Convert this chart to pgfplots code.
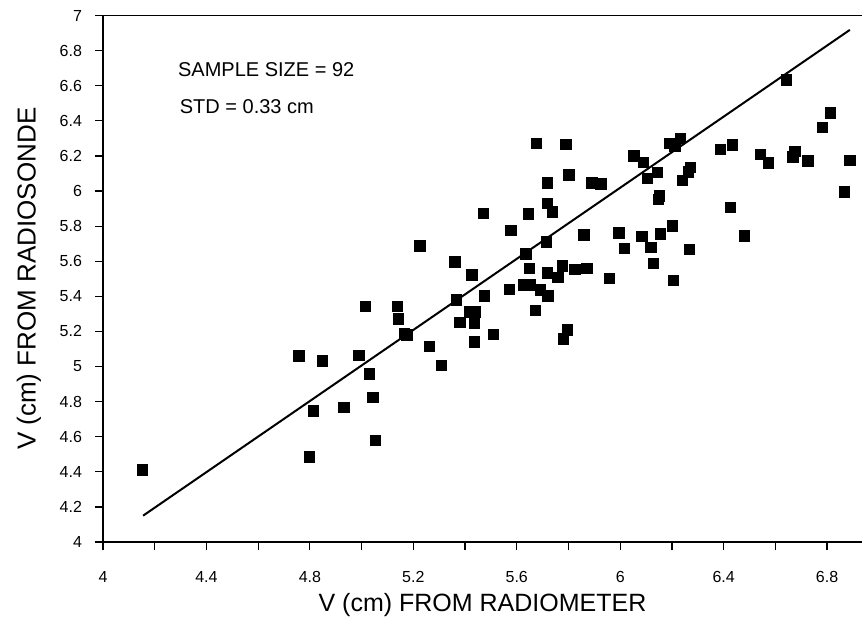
\documentclass[border=0pt]{standalone}
\usepackage{fontspec}
\setmainfont{Liberation Sans}
\usepackage{pgfplots}
\pgfplotsset{compat=1.18}

\begin{document}
\begin{tikzpicture}
\useasboundingbox (-51.5pt,-37.5pt) rectangle (382pt,271pt);
\begin{axis}[
  scale only axis,
  width=379.5pt, height=263.25pt,
  xmin=4, xmax=6.935, ymin=4, ymax=7,
  axis x line=box, axis y line=left,
  axis line style={-, line width=0.8pt},
  tick align=outside,
  xtick pos=bottom, ytick pos=left,
  major tick length=4pt, minor tick length=4pt,
  tick style={black, line width=0.6pt},
  xtick={4,4.4,4.8,5.2,5.6,6,6.4,6.8},
  minor xtick={4.2,4.6,5.0,5.4,5.8,6.2,6.6},
  ytick={4,4.2,4.4,4.6,4.8,5,5.2,5.4,5.6,5.8,6,6.2,6.4,6.6,6.8,7},
  /pgf/number format/assume math mode=true,
  ticklabel style={font=\fontsize{8}{9.5}\selectfont},
  xticklabel style={yshift=-7pt},
  yticklabel style={xshift=-3pt},
  xlabel={V (cm) FROM RADIOMETER},
  ylabel={V (cm) FROM RADIOSONDE},
  label style={font=\fontsize{12.5}{15}\selectfont},
  xlabel style={at={(axis description cs:0.5,0)}, anchor=center, yshift=-31.5pt},
  ylabel style={at={(axis description cs:0,0.5)}, anchor=center, yshift=37pt, font=\fontsize{13}{15}\selectfont},
  clip=false,
]
% regression line
\addplot[black, line width=1pt] coordinates {(4.155,4.15) (6.888,6.918)};

% data: radiometer vs radiosonde
\addplot[only marks, mark=square*, mark size=2.6pt, mark options={fill=black, draw=black}] coordinates {
(4.153,4.41) (4.758,5.060) (4.848,5.033) (4.813,4.746) (4.798,4.486)
(4.932,4.767) (4.990,5.064) (5.030,4.959) (5.043,4.825) (5.054,4.580)
(5.014,5.341) (5.138,5.341) (5.142,5.271) (5.165,5.190) (5.175,5.180)
(5.366,5.379) (5.262,5.113) (5.308,5.007) (5.380,5.250) (5.419,5.312)
(5.438,5.312) (5.436,5.246) (5.436,5.141) (5.475,5.402) (5.509,5.183)
(5.226,5.688) (5.361,5.597) (5.427,5.523) (5.677,6.272) (5.790,6.266)
(5.802,6.091) (5.718,6.047) (5.890,6.047) (5.926,6.040) (6.053,6.199)
(6.089,6.164) (6.106,6.072) (6.144,6.107) (6.147,5.953) (6.151,5.972)
(5.471,5.873) (5.645,5.869) (5.718,5.930) (5.737,5.882) (5.577,5.774)
(5.714,5.711) (5.860,5.751) (5.995,5.762) (6.016,5.673) (6.084,5.740)
(6.119,5.679) (6.156,5.755) (5.636,5.641) (5.649,5.560) (5.718,5.534)
(5.759,5.508) (5.777,5.574) (5.825,5.554) (5.871,5.559) (5.958,5.503)
(6.128,5.588) (5.571,5.440) (5.625,5.464) (5.651,5.464) (5.692,5.436)
(5.721,5.402) (5.673,5.318) (5.795,5.208) (5.780,5.157) (6.643,6.632)
(6.813,6.446) (6.782,6.363) (6.233,6.300) (6.211,6.258) (6.388,6.238)
(6.433,6.262) (6.543,6.209) (6.574,6.161) (6.675,6.224) (6.667,6.195)
(6.725,6.171) (6.888,6.173) (6.867,5.996) (6.272,6.135) (6.264,6.110)
(6.241,6.059) (6.425,5.907) (6.202,5.802) (6.480,5.744) (6.267,5.668)
(6.205,5.489) (6.190,6.270)
};

\node[anchor=base west, font=\fontsize{10}{12}\selectfont] at (axis cs:4.263,6.650) {SAMPLE SIZE = 92};
\node[anchor=base west, font=\fontsize{10}{12}\selectfont] at (axis cs:4.270,6.444) {STD = 0.33 cm};
\end{axis}
\end{tikzpicture}
\end{document}
